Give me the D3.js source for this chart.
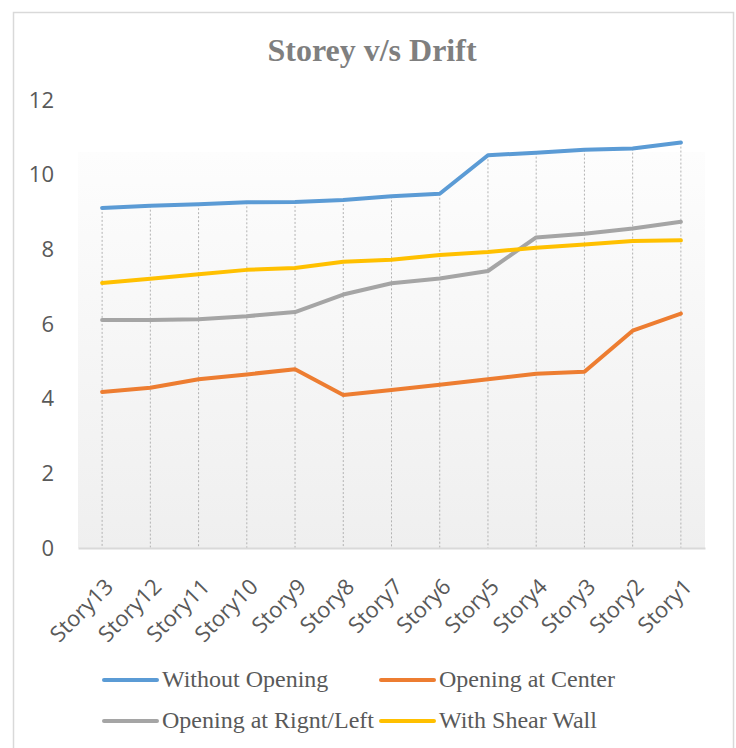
<!DOCTYPE html>
<html>
<head>
<meta charset="utf-8">
<script src="https://cdn.jsdelivr.net/npm/d3@7"></script>
<style>
  body { margin: 0; background: #fff; }
</style>
</head>
<body>
<div id="chart"></div>
<script>
// storeys, top floor first (as on the x axis)
var stories = ["Story13", "Story12", "Story11", "Story10", "Story9", "Story8", "Story7",
  "Story6", "Story5", "Story4", "Story3", "Story2", "Story1"];

var withoutOpening = [9.11, 9.17, 9.21, 9.26, 9.27, 9.32, 9.42, 9.49, 10.52, 10.59, 10.67, 10.70, 10.86];
var openingCenter = [4.18, 4.29, 4.52, 4.65, 4.79, 4.10, 4.23, 4.37, 4.52, 4.67, 4.72, 5.82, 6.28];
var openingSide = [6.11, 6.11, 6.13, 6.21, 6.32, 6.79, 7.09, 7.22, 7.42, 8.32, 8.42, 8.56, 8.74];
var shearWall = [7.10, 7.21, 7.33, 7.45, 7.50, 7.67, 7.72, 7.85, 7.93, 8.04, 8.13, 8.22, 8.24];

var seriesNames = ["Without Opening", "Opening at Center", "Opening at Rignt/Left", "With Shear Wall"];
var yTicks = [0, 2, 4, 6, 8, 10, 12];

var series = [
  { name: seriesNames[0], values: withoutOpening, color: "#5b9bd5" },
  { name: seriesNames[1], values: openingCenter, color: "#ed7d31" },
  { name: seriesNames[2], values: openingSide, color: "#a5a5a5" },
  { name: seriesNames[3], values: shearWall, color: "#ffc000" }
];

var svgWidth = 736, svgHeight = 748;
var plot = { left: 78, right: 705, top: 100, bottom: 548 };

var svg = d3.select("#chart")
  .append("svg")
  .attr("width", svgWidth)
  .attr("height", svgHeight);

// chart border
svg.append("rect")
  .attr("x", 13.5).attr("y", 12.5)
  .attr("width", 720).attr("height", 745)
  .attr("fill", "#fff")
  .attr("stroke", "#d9d9d9")
  .attr("stroke-width", 1.5);

// plot area gradient
var grad = svg.append("defs").append("linearGradient")
  .attr("id", "plotFill")
  .attr("x1", 0).attr("y1", 0).attr("x2", 0).attr("y2", 1);
grad.append("stop").attr("offset", "0%").attr("stop-color", "#fdfdfd");
grad.append("stop").attr("offset", "100%").attr("stop-color", "#efefef");

var x = d3.scalePoint()
  .domain(stories)
  .range([plot.left, plot.right])
  .padding(0.5);

var y = d3.scaleLinear()
  .domain([0, 12])
  .range([plot.bottom, plot.top]);

svg.append("rect")
  .attr("x", plot.left)
  .attr("y", 152)
  .attr("width", plot.right - plot.left)
  .attr("height", plot.bottom - 152)
  .attr("fill", "url(#plotFill)");

// title
svg.append("text")
  .attr("x", 372)
  .attr("y", 61)
  .attr("text-anchor", "middle")
  .attr("font-family", "'Liberation Serif', 'Times New Roman', serif")
  .attr("font-weight", "bold")
  .attr("font-size", 32)
  .attr("fill", "#7f7f7f")
  .text("Storey v/s Drift");

// y axis labels (no line, no ticks)
var yAxis = svg.append("g")
  .attr("transform", "translate(" + (plot.left - 24) + ",0)")
  .call(d3.axisLeft(y).tickValues(yTicks).tickSize(0).tickPadding(0).tickFormat(d3.format("d")));
yAxis.select(".domain").remove();
yAxis.selectAll("text")
  .attr("font-family", "'Open Sans', sans-serif")
  .attr("font-size", 22)
  .attr("fill", "#595959");

// drop lines from highest point to axis
svg.append("g")
  .selectAll("line")
  .data(stories)
  .enter()
  .append("line")
  .attr("x1", function(d) { return x(d); })
  .attr("x2", function(d) { return x(d); })
  .attr("y1", function(d, i) {
    return y(d3.max(series, function(s) { return s.values[i]; }));
  })
  .attr("y2", y(0))
  .attr("stroke", "#b3b3b3")
  .attr("stroke-width", 1)
  .attr("stroke-dasharray", "2,2");

// x axis
var xAxis = svg.append("g")
  .attr("transform", "translate(0," + y(0) + ")")
  .call(d3.axisBottom(x).tickSize(0).tickPadding(0));
xAxis.select(".domain")
  .attr("stroke", "#d9d9d9")
  .attr("stroke-width", 2);
xAxis.selectAll("text")
  .attr("font-family", "'Open Sans', sans-serif")
  .attr("font-size", 22)
  .attr("fill", "#595959")
  .attr("text-anchor", "end")
  .attr("dy", 0)
  .attr("y", 0)
  .attr("transform", "translate(12,40) rotate(-45)");

// series lines
var line = d3.line()
  .x(function(d, i) { return x(stories[i]); })
  .y(function(d) { return y(d); });

svg.append("g")
  .selectAll("path")
  .data(series)
  .enter()
  .append("path")
  .attr("d", function(s) { return line(s.values); })
  .attr("fill", "none")
  .attr("stroke", function(s) { return s.color; })
  .attr("stroke-width", 4)
  .attr("stroke-linecap", "round")
  .attr("stroke-linejoin", "round");

// legend, two columns
var legendPos = [[104, 680], [381, 680], [104, 721], [381, 721]];

var legend = svg.append("g")
  .selectAll("g")
  .data(series)
  .enter()
  .append("g")
  .attr("transform", function(d, i) {
    return "translate(" + legendPos[i][0] + "," + legendPos[i][1] + ")";
  });

legend.append("line")
  .attr("x1", 0).attr("x2", 53)
  .attr("y1", 0).attr("y2", 0)
  .attr("stroke", function(d) { return d.color; })
  .attr("stroke-width", 4)
  .attr("stroke-linecap", "round");

legend.append("text")
  .attr("x", 58)
  .attr("y", 7)
  .attr("font-family", "'Liberation Serif', 'Times New Roman', serif")
  .attr("font-size", 24)
  .attr("fill", "#595959")
  .text(function(d) { return d.name; });
</script>
</body>
</html>
